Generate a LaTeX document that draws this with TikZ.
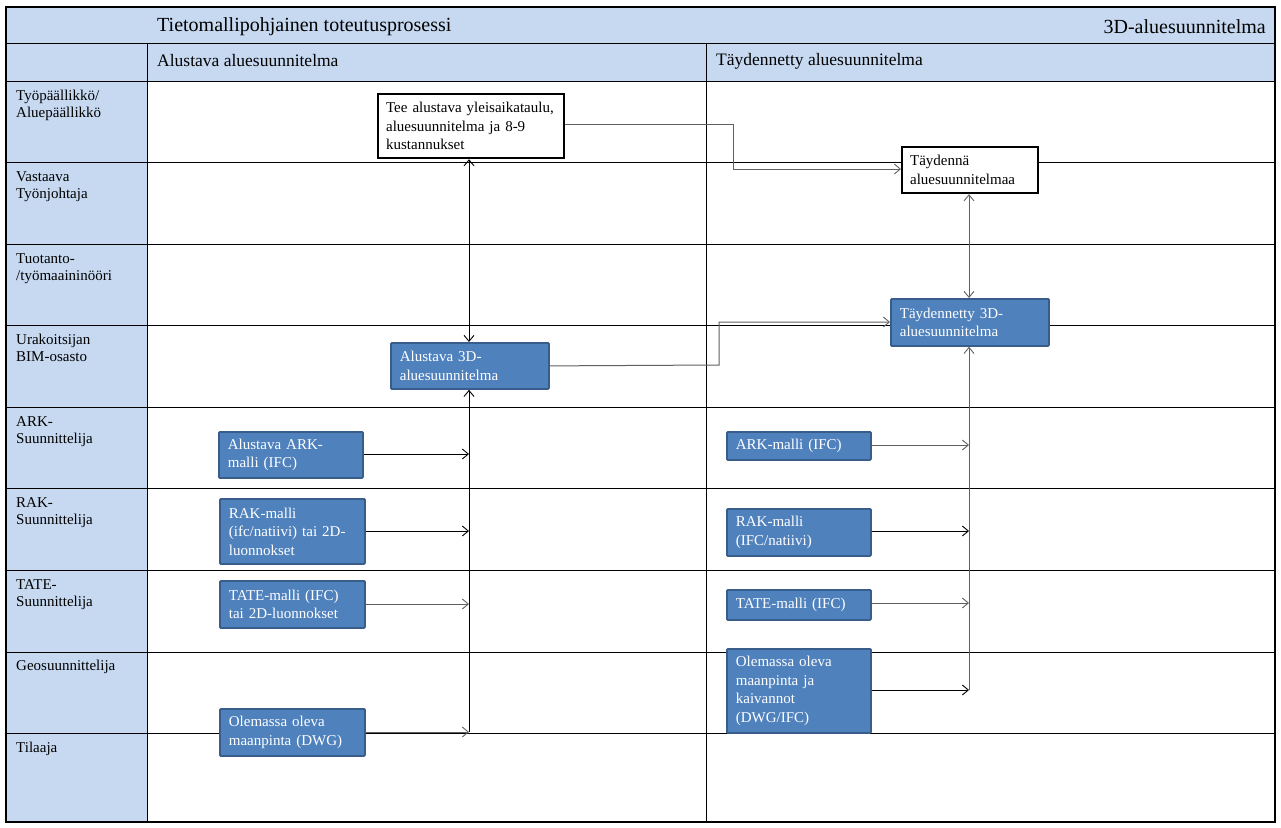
\documentclass[tikz,border=0pt]{standalone}
\usepackage{fontspec}
\setmainfont{Liberation Serif}
\usetikzlibrary{arrows.meta}
\definecolor{hdr}{HTML}{C6D9F1}
\definecolor{bfill}{HTML}{4F81BD}
\definecolor{bdraw}{HTML}{385D8A}
\definecolor{lgray}{HTML}{606060}
\begin{document}
\begin{tikzpicture}[x=1pt,y=-1pt,
  grid/.style={draw=black,line width=0.9pt},
  lbl/.style={anchor=north west,align=left,font=\fontsize{15}{17}\selectfont,inner sep=0pt},
  whitebox/.style={draw=black,line width=2.2pt,fill=white,anchor=north west,align=left,
     font=\fontsize{15}{18.5}\selectfont,inner xsep=8pt,inner ysep=0pt},
  bluebox/.style={draw=bdraw,line width=1.8pt,fill=bfill,text=white,anchor=north west,align=left,
     font=\fontsize{15}{18.5}\selectfont,inner xsep=9pt,inner ysep=0pt,rounded corners=1pt},
  conn/.style={line width=0.9pt,draw=black},
  gconn/.style={line width=1pt,draw=lgray},
  arr/.style={-{Straight Barb[length=6pt,width=10pt,line width=0.9pt]}},
  darr/.style={{Straight Barb[length=6pt,width=10pt,line width=0.9pt]}-{Straight Barb[length=6pt,width=10pt,line width=0.9pt]}}
]
\useasboundingbox (0,0) rectangle (1281,827);
% header fills
\fill[hdr] (6,7) rectangle (1275,81);
\fill[hdr] (6,81) rectangle (147.5,822);
% grid lines
\foreach \yy in {43,81,162.5,244,325.5,407,488.5,570,652,733}
  \draw[grid] (6,\yy) -- (1275,\yy);
\draw[grid] (147.5,43) -- (147.5,822);
\draw[grid] (706,43) -- (706,822);
\draw[line width=1.2pt] (6,7) rectangle (1275,822);
% header texts
\node[anchor=west,inner sep=0pt,font=\fontsize{20}{22}\selectfont] (title) at (157,26.5) {Tietomallipohjainen toteutusprosessi};
\node[anchor=east,inner sep=0pt,font=\fontsize{20}{22}\selectfont] (title2) at (1266,26.5) {3D-aluesuunnitelma};
\node[anchor=west,inner sep=0pt,font=\fontsize{17.5}{20}\selectfont] (ph1) at (157,61) {Alustava aluesuunnitelma};
\node[anchor=west,inner sep=0pt,font=\fontsize{17.5}{20}\selectfont] (ph2) at (716,61) {Täydennetty aluesuunnitelma};
% row labels
\node[lbl] (r1) at (16,90) {Työpäällikkö/\\Aluepäällikkö};
\node[lbl] (r2) at (16,171) {Vastaava\\Työnjohtaja};
\node[lbl] (r3) at (16,253) {Tuotanto-\\/työmaaininööri};
\node[lbl] (r4) at (16,334) {Urakoitsijan\\BIM-osasto};
\node[lbl] (r5) at (16,416) {ARK-\\Suunnittelija};
\node[lbl] (r6) at (16,497) {RAK-\\Suunnittelija};
\node[lbl] (r7) at (16,579) {TATE-\\Suunnittelija};
\node[lbl] (r8) at (16,660) {Geosuunnittelija};
\node[lbl] (r9) at (16,742) {Tilaaja};
% boxes
\node[whitebox,text width=170pt,minimum height=64pt] (tee) at (377,93) {Tee alustava yleisaikataulu,\\aluesuunnitelma ja 8-9\\kustannukset};
\node[whitebox,text width=120pt,minimum height=46pt] (tayd) at (901,146) {Täydennä\\aluesuunnitelmaa};
\node[bluebox,text width=140pt,minimum height=47pt] (t3d) at (890,298) {Täydennetty 3D-\\aluesuunnitelma};
\node[bluebox,text width=140pt,minimum height=46pt] (a3d) at (390,342) {Alustava 3D-\\aluesuunnitelma};
\node[bluebox,text width=126pt,minimum height=46pt] (ark1) at (218,431) {Alustava ARK-\\malli (IFC)};
\node[bluebox,text width=127pt,minimum height=65pt] (rak1) at (219,498) {RAK-malli\\(ifc/natiivi) tai 2D-\\luonnokset};
\node[bluebox,text width=127pt,minimum height=47pt] (tate1) at (219,580) {TATE-malli (IFC)\\tai 2D-luonnokset};
\node[bluebox,text width=127pt,minimum height=47pt] (geo1) at (219,708) {Olemassa oleva\\maanpinta (DWG)};
\node[bluebox,text width=126pt,minimum height=28pt] (ark2) at (726,431) {ARK-malli (IFC)};
\node[bluebox,text width=126pt,minimum height=47pt] (rak2) at (726,508) {RAK-malli\\(IFC/natiivi)};
\node[bluebox,text width=126pt,minimum height=30pt] (tate2) at (726,589) {TATE-malli (IFC)};
\node[bluebox,text width=126pt,minimum height=84pt] (geo2) at (726,648) {Olemassa oleva\\maanpinta ja\\kaivannot\\(DWG/IFC)};
% junction coordinates
\coordinate (jl1) at (469,454);
\coordinate (jl2) at (469,531);
\coordinate (jl3) at (469,604);
\coordinate (jl4) at (469,732);
\coordinate (jr1) at (969,445);
\coordinate (jr2) at (969,531);
\coordinate (jr3) at (969,603);
\coordinate (jr4) at (969,690);
% connectors left
\draw[conn,darr] (tee.south -| jl1) -- (a3d.north -| jl1);
\draw[conn,arr] (jl4) -- (a3d.south -| jl4);
\draw[conn,arr] (ark1.east |- jl1) -- (jl1);
\draw[conn,arr] (rak1.east |- jl2) -- (jl2);
\draw[gconn,arr] (tate1.east |- jl3) -- (jl3);
\draw[gconn,arr] (geo1.east |- jl4) -- (jl4);
% connectors across
\draw[gconn,arr] (tee.east |- 0,124) -- (733,124) -- (733,169) -- (tayd.west |- 0,169);
\draw[gconn,arr] (a3d.east) -- (719,365) -- (719,322) -- (t3d.west |- 0,322);
% connectors right
\draw[gconn,darr] (tayd.south -| jr1) -- (t3d.north -| jr1);
\draw[gconn,arr] (jr4) -- (t3d.south -| jr4);
\draw[gconn,arr] (ark2.east |- jr1) -- (jr1);
\draw[conn,arr] (rak2.east |- jr2) -- (jr2);
\draw[gconn,arr] (tate2.east |- jr3) -- (jr3);
\draw[conn,arr] (geo2.east |- jr4) -- (jr4);
\end{tikzpicture}
\end{document}
